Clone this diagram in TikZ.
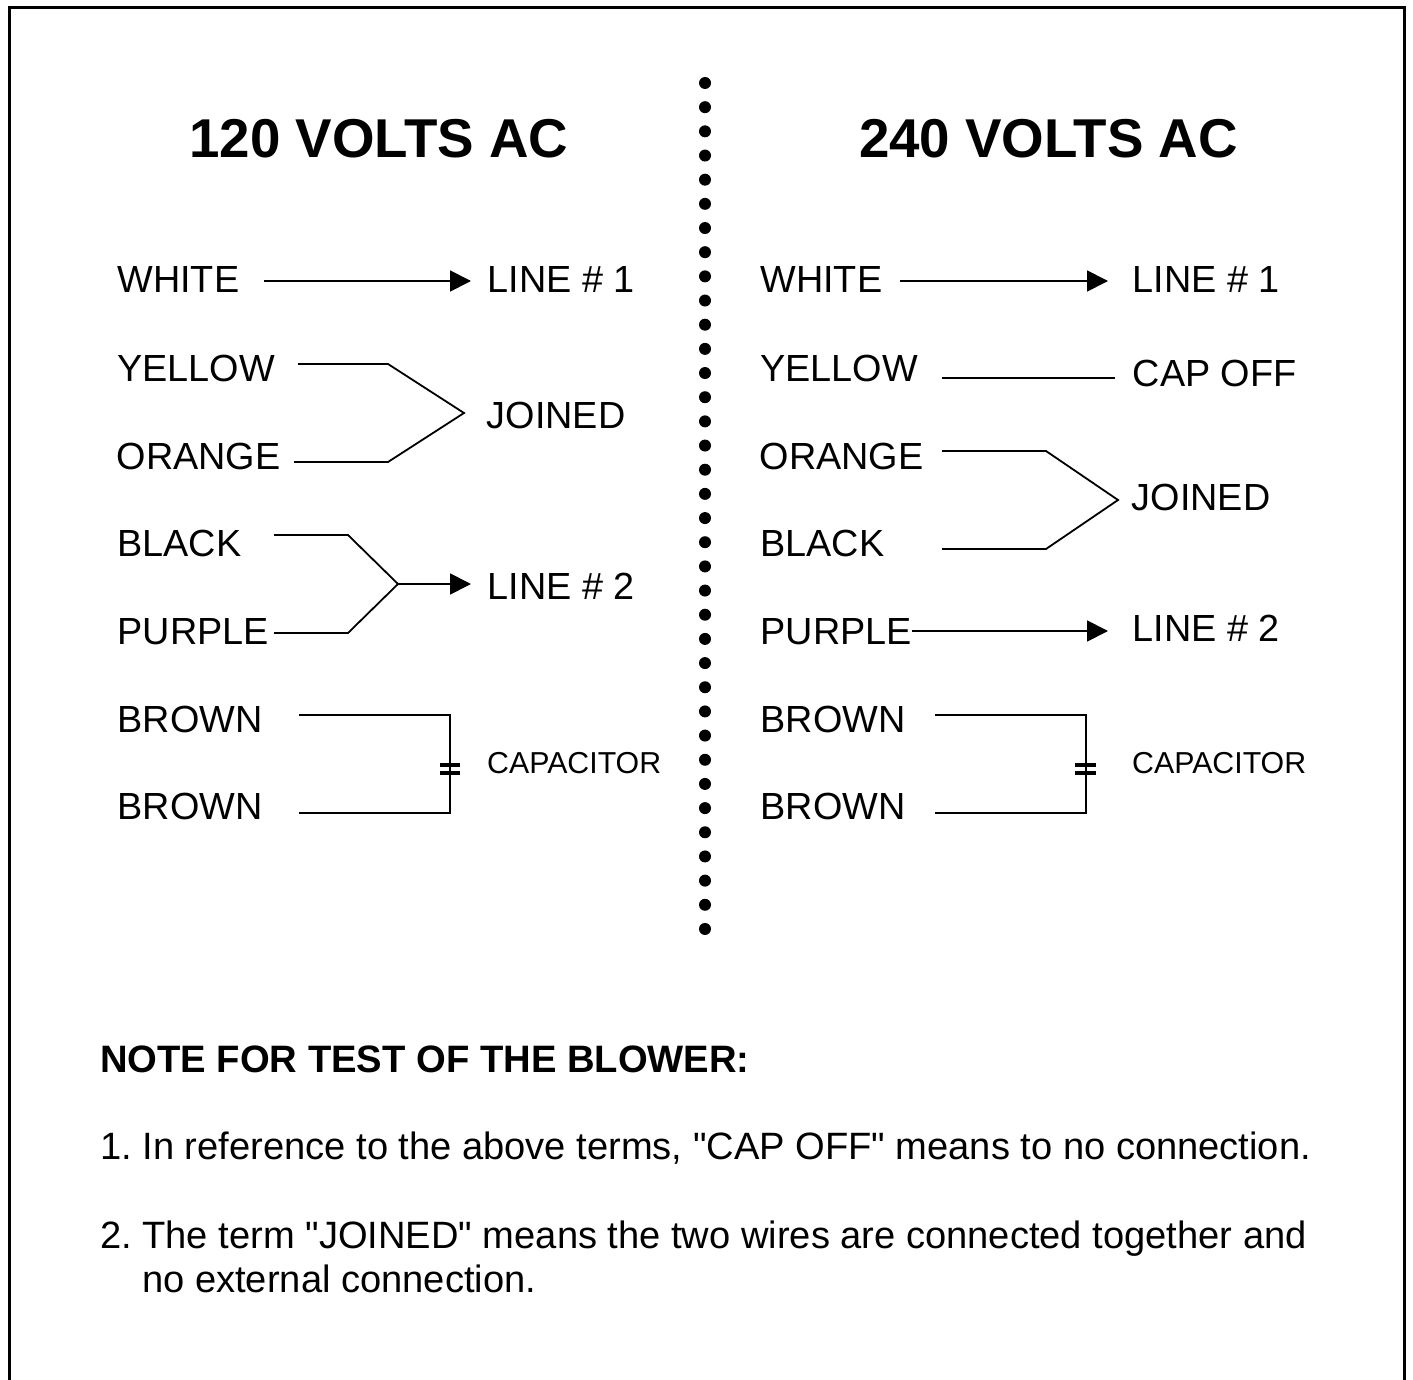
\documentclass[tikz,border=0pt]{standalone}
\usepackage{fontspec}
\setmainfont{Liberation Sans}[Ligatures=TeXOff]
\usetikzlibrary{arrows.meta}
\frenchspacing
\tikzset{
  lbl/.style={anchor=base west,inner sep=0pt,font=\fontsize{37.8}{44}\selectfont},
  notetext/.style={anchor=base west,inner sep=0pt,font=\fontsize{38.1}{44}\selectfont},
  caplbl/.style={anchor=base west,inner sep=0pt,font=\fontsize{30.3}{36}\selectfont},
  ttl/.style={anchor=base,inner sep=0pt,font=\fontsize{54.7}{64}\selectfont\bfseries},
  head/.style={anchor=base west,inner sep=0pt,font=\fontsize{38.2}{44}\selectfont\bfseries},
  wire/.style={line width=1.8pt,line join=miter},
  arrowwire/.style={wire,-{Triangle[length=21pt,width=21pt]}},
  plate/.style={line width=4.2pt},
  frameline/.style={line width=2.7pt},
}
\begin{document}
\begin{tikzpicture}[x=1pt,y=-1pt]
\useasboundingbox (0,0) rectangle (1413,1380);
\draw[frameline] (9.2,1385) -- (9.2,7.2) -- (1404.7,7.2) -- (1404.7,1385);
\foreach \i in {0,...,35}{\fill (705,83+24.17*\i) circle (6pt);}

% titles
\node[ttl] (tl) at (379,158) {120 VOLTS AC};
\node[ttl] (tr) at (1048.5,158) {240 VOLTS AC};

% left labels
\node[lbl] (lwhite) at (117.3,293) {WHITE};
\node[lbl] (lyellow) at (117.3,381) {YELLOW};
\node[lbl] (lorange) at (116.5,469) {ORANGE};
\node[lbl] (lblack) at (117.3,556) {BLACK};
\node[lbl] (lpurple) at (117.3,644) {PURPLE};
\node[lbl] (lbrown1) at (117.3,732) {BROWN};
\node[lbl] (lbrown2) at (117.3,819) {BROWN};
\node[lbl] (lline1) at (487.5,293) {LINE \# 1};
\node[lbl] (ljoined) at (486.5,428) {JOINED};
\node[lbl] (lline2) at (487.5,599) {LINE \# 2};
\node[caplbl] (lcap) at (487,773) {CAPACITOR};

% right labels
\node[lbl] (rwhite) at (760.3,293) {WHITE};
\node[lbl] (ryellow) at (760.3,381) {YELLOW};
\node[lbl] (rorange) at (759.5,469) {ORANGE};
\node[lbl] (rblack) at (760.3,556) {BLACK};
\node[lbl] (rpurple) at (760.3,644) {PURPLE};
\node[lbl] (rbrown1) at (760.3,732) {BROWN};
\node[lbl] (rbrown2) at (760.3,819) {BROWN};
\node[lbl] (rline1) at (1132.5,293) {LINE \# 1};
\node[lbl] (rcapoff) at (1132.5,386) {CAP OFF};
\node[lbl] (rjoined) at (1131.5,510) {JOINED};
\node[lbl] (rline2) at (1132.5,641) {LINE \# 2};
\node[caplbl] (rcap) at (1132,773) {CAPACITOR};

% wire ends
\coordinate (a1) at (264,281); \coordinate (a2) at (471,281);
\coordinate (b1) at (298,364); \coordinate (b2) at (388,364);
\coordinate (b3) at (464,413);
\coordinate (b4) at (388,462); \coordinate (b5) at (294,462);
\coordinate (c1) at (274,535); \coordinate (c2) at (348,535);
\coordinate (c3) at (398,584);
\coordinate (c4) at (348,633); \coordinate (c5) at (274,633);
\coordinate (c6) at (471,584);
\coordinate (d1) at (299,715); \coordinate (d2) at (450,715);
\coordinate (d3) at (450,813); \coordinate (d4) at (299,813);
\coordinate (e1) at (440,765); \coordinate (e2) at (460,765);
\coordinate (e3) at (440,773); \coordinate (e4) at (460,773);

\coordinate (f1) at (900,281); \coordinate (f2) at (1108,281);
\coordinate (g1) at (942,378); \coordinate (g2) at (1115,378);
\coordinate (h1) at (942,451); \coordinate (h2) at (1046,451);
\coordinate (h3) at (1118,500);
\coordinate (h4) at (1046,549); \coordinate (h5) at (942,549);
\coordinate (i1) at (912,631); \coordinate (i2) at (1108,631);
\coordinate (j1) at (935,715); \coordinate (j2) at (1086,715);
\coordinate (j3) at (1086,813); \coordinate (j4) at (935,813);
\coordinate (k1) at (1075,765); \coordinate (k2) at (1096,765);
\coordinate (k3) at (1075,773); \coordinate (k4) at (1096,773);

% left wires
\draw[arrowwire] (a1) -- (a2);
\draw[wire] (b1) -- (b2) -- (b3) -- (b4) -- (b5);
\draw[wire] (c1) -- (c2) -- (c3) -- (c4) -- (c5);
\draw[arrowwire] (c3) -- (c6);
\draw[wire] (d1) -- (d2) -- (d3) -- (d4);
\draw[plate] (e1) -- (e2);
\draw[plate] (e3) -- (e4);

% right wires
\draw[arrowwire] (f1) -- (f2);
\draw[wire] (g1) -- (g2);
\draw[wire] (h1) -- (h2) -- (h3) -- (h4) -- (h5);
\draw[arrowwire] (i1) -- (i2);
\draw[wire] (j1) -- (j2) -- (j3) -- (j4);
\draw[plate] (k1) -- (k2);
\draw[plate] (k3) -- (k4);

% note
\node[head] (nhead) at (100,1072) {NOTE FOR TEST OF THE BLOWER:};
\node[notetext] (n1) at (100,1159) {1. In reference to the above terms, "CAP OFF" means to no connection.};
\node[notetext] (n2) at (100,1248) {2. The term "JOINED" means the two wires are connected together and};
\node[notetext] (n3) at (142,1292) {no external connection.};
\end{tikzpicture}
\end{document}
